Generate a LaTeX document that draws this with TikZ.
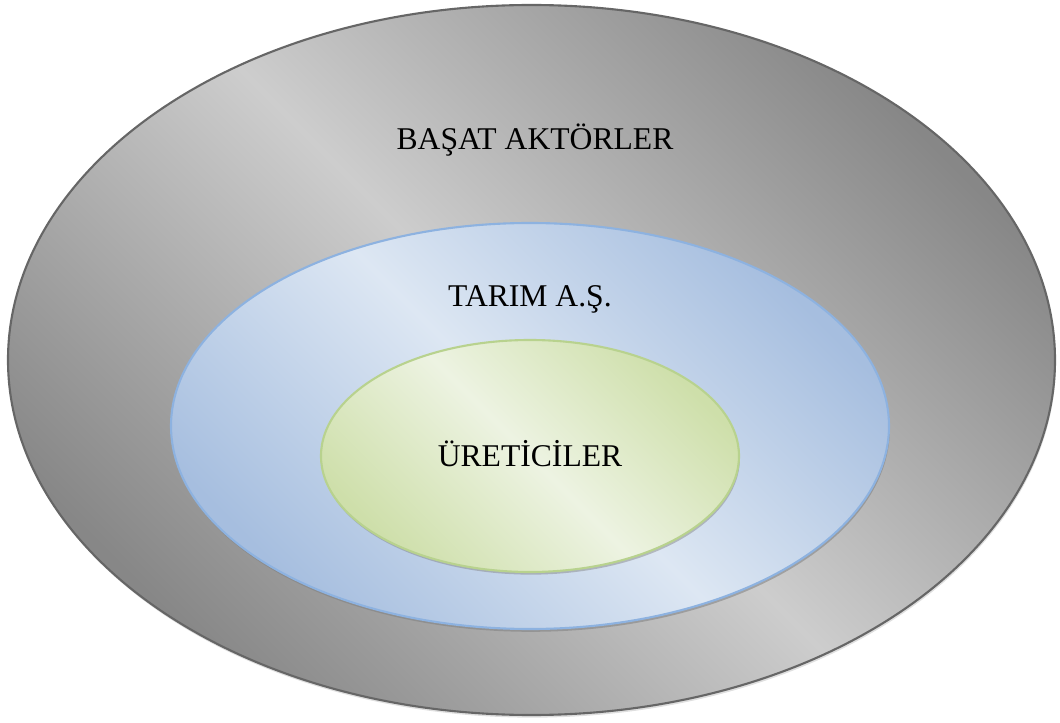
\documentclass[tikz,border=0pt]{standalone}
\usepackage{fontspec}
\setmainfont{Liberation Serif}
\usetikzlibrary{shapes.geometric,shadows}
\definecolor{graydark}{HTML}{878787}
\definecolor{graylight}{HTML}{CDCDCD}
\definecolor{grayline}{HTML}{666666}
\definecolor{bluedark}{HTML}{A6BEDF}
\definecolor{bluelight}{HTML}{DDE7F3}
\definecolor{blueline}{HTML}{8DB2E0}
\definecolor{greendark}{HTML}{CEDFAA}
\definecolor{greenlight}{HTML}{EDF3E2}
\definecolor{greenline}{HTML}{B8D28E}
\begin{document}
\begin{tikzpicture}[x=0.2mm, y=0.2mm, font=\fontsize{18}{22}\selectfont,
	ring/.style n args={3}{ellipse, inner sep=0pt, outer sep=0pt, line width=1.2pt, draw=#1,
		top color=#2, bottom color=#2, middle color=#3, shading angle=-45},
	label/.style={anchor=base, inner sep=0pt}]
	\useasboundingbox (0,0) rectangle (1060,722);
	\node[ring={grayline}{graydark}{graylight}, minimum width=209.4mm, minimum height=142mm, drop shadow={shadow xshift=.5pt, shadow yshift=-1.5pt, opacity=.25}] (basat) at (531.5,362) {};
	\node[ring={blueline}{bluedark}{bluelight}, minimum width=143.6mm, minimum height=81.2mm, drop shadow={shadow xshift=.5pt, shadow yshift=-1.6pt, opacity=.55}] (tarim) at (530,296) {};
	\node[ring={greenline}{greendark}{greenlight}, minimum width=83.6mm, minimum height=46.4mm, drop shadow={shadow xshift=.5pt, shadow yshift=-1.5pt, opacity=.45}] (uretici) at (530,266) {};
	\node[label] (tbasat) at (535,572) {BAŞAT AKTÖRLER};
	\node[label] (ttarim) at (530,415) {TARIM A.Ş.};
	\node[label] (turetici) at (530,256) {ÜRETİCİLER};
\end{tikzpicture}
\end{document}
